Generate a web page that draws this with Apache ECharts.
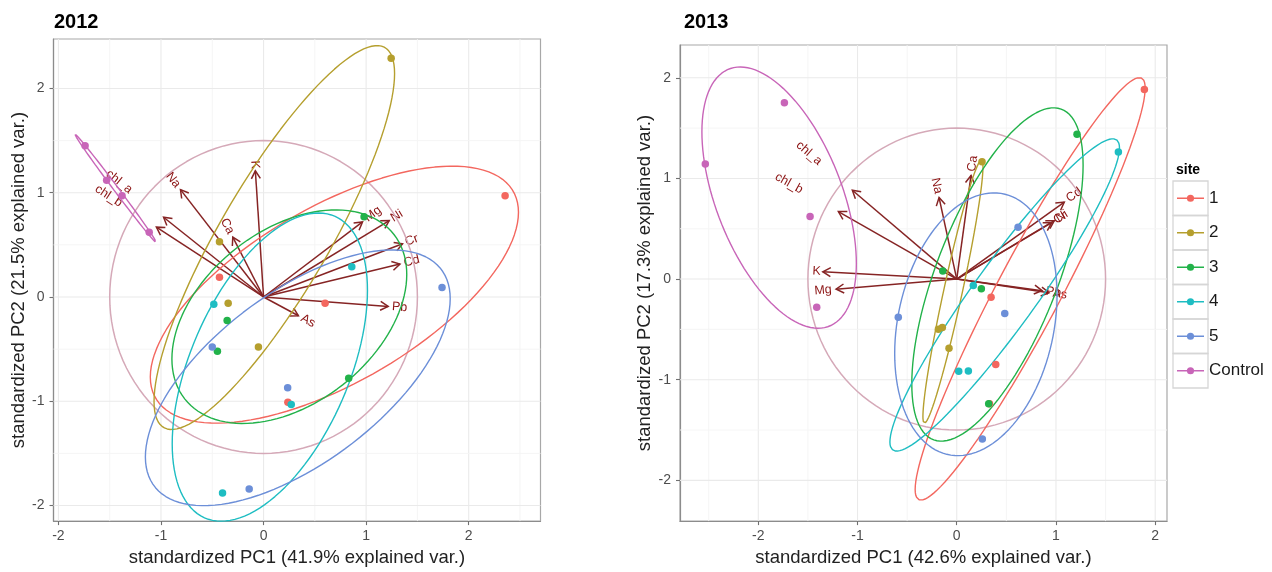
<!DOCTYPE html>
<html><head><meta charset="utf-8">
<script src="https://cdn.jsdelivr.net/npm/echarts@6/dist/echarts.min.js"></script>
<style>html,body{margin:0;padding:0;background:#fff}#c{width:1272px;height:572px}</style>
</head><body><div id="c"></div><script>
// ---------------- data ----------------
const sites = ['1', '2', '3', '4', '5', 'Control'];
const siteColors = ['#F3675F', '#B59F2E', '#22B24A', '#1EBDC2', '#6C8FD8', '#C865B8'];

// 2012 PCA scores [PC1, PC2] per site
const s2012_1 = [[2.355, 0.97], [-0.43, 0.19], [0.60, -0.06], [0.237, -1.01]];
const s2012_2 = [[1.244, 2.29], [-0.43, 0.53], [-0.345, -0.06], [-0.05, -0.48]];
const s2012_3 = [[0.98, 0.77], [-0.355, -0.225], [-0.45, -0.52], [0.83, -0.78]];
const s2012_4 = [[0.86, 0.29], [-0.485, -0.07], [0.27, -1.03], [-0.40, -1.88]];
const s2012_5 = [[1.74, 0.09], [-0.50, -0.48], [0.235, -0.87], [-0.14, -1.84]];
const s2012_C = [[-1.74, 1.45], [-1.53, 1.12], [-1.38, 0.97], [-1.115, 0.62]];

// 2013 PCA scores [PC1, PC2] per site
const s2013_1 = [[1.891, 1.883], [0.346, -0.181], [0.393, -0.85], [0.33, -1.24]];
const s2013_2 = [[0.255, 1.167], [-0.185, -0.498], [-0.145, -0.482], [-0.078, -0.688]];
const s2013_3 = [[1.212, 1.438], [-0.141, 0.08], [0.248, -0.096], [0.322, -1.239]];
const s2013_4 = [[1.629, 1.262], [0.167, -0.064], [0.02, -0.916], [0.117, -0.913]];
const s2013_5 = [[0.618, 0.514], [0.484, -0.341], [-0.589, -0.38], [0.258, -1.589]];
const s2013_C = [[-1.737, 1.751], [-2.534, 1.144], [-1.478, 0.622], [-1.411, -0.279]];

// variable loadings (arrows)
const vars = ['chl_a', 'chl_b', 'Na', 'K', 'Ca', 'Mg', 'Ni', 'Cr', 'Cd', 'Pb', 'As'];
const load2012_pc1 = [-0.975, -1.045, -0.81, -0.08, -0.30, 0.965, 1.225, 1.355, 1.33, 1.215, 0.34];
const load2012_pc2 = [0.765, 0.67, 1.03, 1.21, 0.575, 0.72, 0.733, 0.51, 0.316, -0.09, -0.18];
const load2013_pc1 = [-1.052, -1.193, -0.178, -1.35, 0.144, -1.216, 0.983, 0.957, 1.084, 0.86, 0.93];
const load2013_pc2 = [0.883, 0.671, 0.81, 0.073, 1.03, -0.10, 0.58, 0.56, 0.765, -0.115, -0.135];

const circleRadius = 1.5;
const ellipseProb = 0.68;

const xTicks2012 = [-2, -1, 0, 1, 2];
const yTicks2012 = [-2, -1, 0, 1, 2];
const xTicks2013 = [-2, -1, 0, 1, 2];
const yTicks2013 = [-2, -1, 0, 1, 2];

const xTitle2012 = 'standardized PC1 (41.9% explained var.)';
const yTitle2012 = 'standardized PC2 (21.5% explained var.)';
const xTitle2013 = 'standardized PC1 (42.6% explained var.)';
const yTitle2013 = 'standardized PC2 (17.3% explained var.)';

// ---------------- styling ----------------
const FONT = '"Liberation Sans", Arial, Helvetica, sans-serif';
const ARROW_COLOR = '#862424';
const LABEL_COLOR = '#8B1212';
const LABEL_FONT = '12.5px ' + FONT;
const labelExtraGap = { chl_a: 42, chl_b: 42 };
const grids = [
  { left: 53.5, top: 39, width: 487, height: 488, xmin: -2.048, xmax: 2.70, ymin: -2.149, ymax: 2.474 },
  { left: 680, top: 45, width: 487, height: 483, xmin: -2.789, xmax: 2.119, ymin: -2.405, ymax: 2.326 }
];

const mctx = document.createElement('canvas').getContext('2d');
function textWidth(t, font) { mctx.font = font; return mctx.measureText(t).width; }

function ellipsePath(pts) {
  const n = pts.length;
  let mx = 0, my = 0;
  pts.forEach(p => { mx += p[0]; my += p[1]; });
  mx /= n; my /= n;
  let a = 0, b = 0, c = 0;
  pts.forEach(p => { const dx = p[0] - mx, dy = p[1] - my; a += dx * dx; b += dx * dy; c += dy * dy; });
  a /= (n - 1); b /= (n - 1); c /= (n - 1);
  const ed = Math.sqrt(-2 * Math.log(1 - ellipseProb));
  const r11 = Math.sqrt(a), r12 = b / r11, r22 = Math.sqrt(Math.max(c - r12 * r12, 0));
  const out = [];
  for (let i = 0; i <= 120; i++) {
    const t = -Math.PI + 2 * Math.PI * i / 120;
    const ct = Math.cos(t), st = Math.sin(t);
    out.push([mx + ed * ct * r11, my + ed * (ct * r12 + st * r22)]);
  }
  return out;
}
function circlePath(r) {
  const out = [];
  for (let i = 0; i <= 120; i++) { const t = 2 * Math.PI * i / 120; out.push([r * Math.cos(t), r * Math.sin(t)]); }
  return out;
}
function gridLineData(xt, yt, g) {
  const d = [];
  const add = (ticks, dir, lo, hi) => {
    ticks.forEach(v => d.push([v, dir, 1]));
    const all = new Set();
    ticks.forEach(v => { [v - 0.5, v + 0.5].forEach(m => { if (m > lo && m < hi && ticks.indexOf(m) < 0) all.add(m); }); });
    all.forEach(m => d.push([m, dir, 0]));
  };
  add(xt, 0, g.xmin, g.xmax);
  add(yt, 1, g.ymin, g.ymax);
  return d;
}

const series = [];
function buildPanel(gi, scores, px, py, xt, yt) {
  const g = grids[gi];
  series.push({
    type: 'custom', xAxisIndex: gi, yAxisIndex: gi, silent: true, z: 1,
    encode: { x: -1, y: -1 },
    data: gridLineData(xt, yt, g),
    renderItem: function (params, api) {
      const cs = params.coordSys;
      const v = api.value(0), dir = api.value(1), maj = api.value(2);
      let shape;
      if (dir === 0) { const x = api.coord([v, 0])[0]; shape = { x1: x, y1: cs.y, x2: x, y2: cs.y + cs.height }; }
      else { const y = api.coord([0, v])[1]; shape = { x1: cs.x, y1: y, x2: cs.x + cs.width, y2: y }; }
      return { type: 'line', shape: shape, style: { stroke: maj ? '#EAEAEA' : '#F4F4F4', lineWidth: maj ? 1.1 : 0.9 } };
    }
  });
  series.push({
    type: 'line', name: 'circle' + gi, xAxisIndex: gi, yAxisIndex: gi, data: circlePath(circleRadius),
    showSymbol: false, symbol: 'none', silent: true, z: 2,
    lineStyle: { color: '#D5A9B8', width: 1.5 }
  });
  const ld = vars.map((v, i) => [px[i], py[i], i]);
  series.push({
    type: 'custom', xAxisIndex: gi, yAxisIndex: gi, silent: true, z: 2, data: ld,
    renderItem: function (params, api) {
      const x = api.value(0), y = api.value(1);
      const o = api.coord([0, 0]), t = api.coord([x, y]);
      const dx = t[0] - o[0], dy = t[1] - o[1], L = Math.hypot(dx, dy);
      const bx = -dx / L, by = -dy / L, hl = 9, ha = Math.PI / 6;
      const w1 = [t[0] + hl * (bx * Math.cos(ha) - by * Math.sin(ha)), t[1] + hl * (bx * Math.sin(ha) + by * Math.cos(ha))];
      const w2 = [t[0] + hl * (bx * Math.cos(-ha) - by * Math.sin(-ha)), t[1] + hl * (bx * Math.sin(-ha) + by * Math.cos(-ha))];
      return { type: 'group', children: [
        { type: 'line', shape: { x1: o[0], y1: o[1], x2: t[0], y2: t[1] }, style: { stroke: ARROW_COLOR, lineWidth: 1.5 } },
        { type: 'polyline', shape: { points: [w1, t, w2] }, style: { stroke: ARROW_COLOR, lineWidth: 1.5, fill: null } }
      ] };
    }
  });
  sites.forEach((s, k) => {
    series.push({
      type: 'scatter', name: s, xAxisIndex: gi, yAxisIndex: gi, data: scores[k], z: 2,
      symbolSize: 7.5, itemStyle: { color: siteColors[k], opacity: 1 }, silent: true
    });
  });
  series.push({
    type: 'custom', xAxisIndex: gi, yAxisIndex: gi, silent: true, z: 2, data: ld,
    renderItem: function (params, api) {
      const x = api.value(0), y = api.value(1), name = vars[api.value(2)];
      const o = api.coord([0, 0]), t = api.coord([x, y]);
      const dx = t[0] - o[0], dyUp = -(t[1] - o[1]);
      const ang = Math.atan(dyUp / dx);
      const w = textWidth(name, LABEL_FONT);
      const gap = labelExtraGap[name] != null ? labelExtraGap[name] : 0.25 * w;
      const pos = x >= 0;
      return { type: 'text', x: t[0], y: t[1], rotation: ang,
        style: { text: name, x: pos ? gap : -gap, y: 0, align: pos ? 'left' : 'right', verticalAlign: 'middle', fill: LABEL_COLOR, font: LABEL_FONT } };
    }
  });
  sites.forEach((s, k) => {
    series.push({
      type: 'line', name: 'ell' + gi + '_' + s, xAxisIndex: gi, yAxisIndex: gi, data: ellipsePath(scores[k]),
      showSymbol: false, symbol: 'none', silent: true, z: 2, clip: true,
      lineStyle: { color: siteColors[k], width: 1.4 }
    });
  });
}
buildPanel(0, [s2012_1, s2012_2, s2012_3, s2012_4, s2012_5, s2012_C], load2012_pc1, load2012_pc2, xTicks2012, yTicks2012);
buildPanel(1, [s2013_1, s2013_2, s2013_3, s2013_4, s2013_5, s2013_C], load2013_pc1, load2013_pc2, xTicks2013, yTicks2013);

function xAxisCfg(gi, ticks, title, gap) {
  const g = grids[gi];
  return {
    gridIndex: gi, type: 'value', min: g.xmin, max: g.xmax,
    splitLine: { show: false },
    axisLine: { show: true, onZero: false, lineStyle: { color: '#8C8C8C', width: 1.2 } },
    axisTick: { show: true, customValues: ticks, length: 4, lineStyle: { color: '#707070', width: 1.1 } },
    axisLabel: { customValues: ticks, fontSize: 14, color: '#4D4D4D', margin: 8, fontFamily: FONT, formatter: v => String(v) },
    name: title, nameLocation: 'middle', nameGap: gap,
    nameTextStyle: { fontSize: 18.5, color: '#222', fontFamily: FONT }
  };
}
function yAxisCfg(gi, ticks, title, gap) {
  const g = grids[gi];
  return {
    gridIndex: gi, type: 'value', min: g.ymin, max: g.ymax,
    splitLine: { show: false },
    axisLine: { show: true, onZero: false, lineStyle: { color: '#8C8C8C', width: 1.2 } },
    axisTick: { show: true, customValues: ticks, length: 4, lineStyle: { color: '#707070', width: 1.1 } },
    axisLabel: { customValues: ticks, fontSize: 14, color: '#4D4D4D', margin: 9, fontFamily: FONT, formatter: v => String(v) },
    name: title, nameLocation: 'middle', nameGap: gap,
    nameTextStyle: { fontSize: 18.5, color: '#222', fontFamily: FONT }
  };
}

const legendIcon = 'path://M0,9.25h30v1.5h-30zM11,10a4,4 0 1,1 8,0a4,4 0 1,1 -8,0z';
const legendBoxes = sites.map((s, i) => ({
  type: 'rect', shape: { x: 1173, y: 181 + i * 34.5, width: 35, height: 34.5 },
  style: { fill: 'none', stroke: '#D6D6D6', lineWidth: 1.3 }, silent: true
}));

const option = {
  animation: false,
  backgroundColor: '#fff',
  textStyle: { fontFamily: FONT },
  grid: grids.map(g => ({ left: g.left, top: g.top, width: g.width, height: g.height, show: true, borderColor: '#A8A8A8', borderWidth: 1.2, containLabel: false })),
  xAxis: [xAxisCfg(0, xTicks2012, xTitle2012, 25), xAxisCfg(1, xTicks2013, xTitle2013, 26)],
  yAxis: [yAxisCfg(0, yTicks2012, yTitle2012, 25), yAxisCfg(1, yTicks2013, yTitle2013, 25)],
  legend: {
    orient: 'vertical', left: 1177, top: 181, padding: 0, itemGap: 0,
    itemWidth: 27, itemHeight: 7.2, selectedMode: false,
    data: sites.map(s => ({ name: s, icon: legendIcon })),
    textStyle: { fontSize: 17, color: '#1A1A1A', lineHeight: 34.5, fontFamily: FONT }
  },
  graphic: [
    { type: 'text', x: 54, y: 22, style: { text: '2012', font: 'bold 20px ' + FONT, fill: '#000', verticalAlign: 'middle' } },
    { type: 'text', x: 684, y: 22, style: { text: '2013', font: 'bold 20px ' + FONT, fill: '#000', verticalAlign: 'middle' } },
    { type: 'text', x: 1176, y: 170, style: { text: 'site', font: 'bold 14px ' + FONT, fill: '#000', verticalAlign: 'middle' } }
  ].concat(legendBoxes),
  series: series
};
const chart = echarts.init(document.getElementById('c'), null, { renderer: 'canvas' });
chart.setOption(option);
</script></body></html>
